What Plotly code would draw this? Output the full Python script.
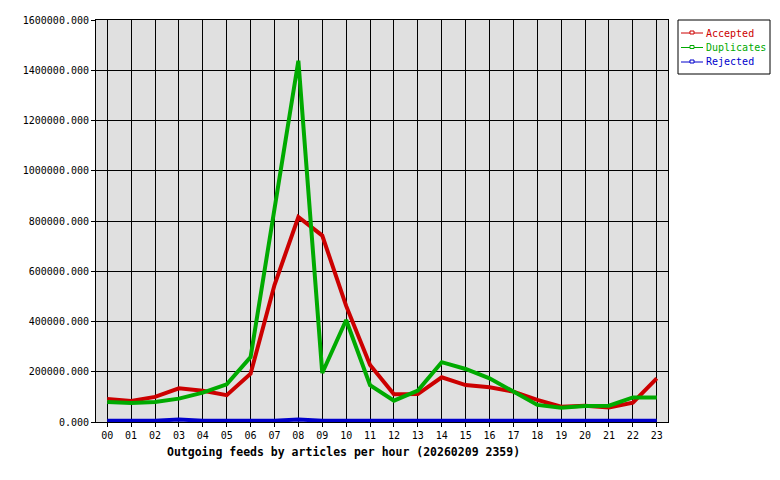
import plotly.graph_objects as go

hours = [f"{h:02d}" for h in range(24)]
accepted = [92000, 84000, 100000, 134000, 124000, 107000, 192000, 545000, 816000, 742000, 462000, 227000,
            110000, 111000, 178000, 147000, 138000, 121000, 88000, 61000, 65000, 58000, 77000, 174000]
duplicates = [80000, 76000, 80000, 93000, 117000, 150000, 258000, 860000, 1438000, 195000, 406000, 147000,
              85000, 125000, 238000, 211000, 174000, 121000, 68000, 57000, 64000, 65000, 98000, 98000]
rejected = [5000, 5000, 5000, 10000, 5000, 5000, 5000, 5000, 10000, 5000, 5000, 5000,
            5000, 5000, 5000, 5000, 5000, 5000, 5000, 5000, 5000, 5000, 5000, 5000]

series = [("Accepted", accepted, "#cc0000"),
          ("Duplicates", duplicates, "#00aa00"),
          ("Rejected", rejected, "#0000cc")]

MONO = "DejaVu Sans Mono, Liberation Mono, monospace"
W, H = 780, 480
L, R, T, B = 96, 112, 20, 58
PW, PH = W - L - R, H - T - B


def px(x):
    return (x - L) / PW


def py(y):
    return (H - B - y) / PH


fig = go.Figure()
for name, vals, col in series:
    fig.add_trace(go.Scatter(x=hours, y=vals, mode="lines", line=dict(color=col, width=4),
                             name=name, showlegend=False, hoverinfo="skip"))

shapes = [dict(type="rect", xref="paper", yref="paper", x0=px(678), x1=px(770), y0=py(20), y1=py(74),
               line=dict(color="black", width=1), fillcolor="white", layer="above")]
annotations = [dict(text="<b>Outgoing feeds by articles per hour (20260209 2359)</b>",
                    xref="paper", yref="paper", x=px(343), y=py(452),
                    xanchor="center", yanchor="middle", showarrow=False,
                    font=dict(family=MONO, size=11.5, color="black"))]
for i, (name, vals, col) in enumerate(series):
    yy = 33 + i * 14.5
    shapes.append(dict(type="line", xref="paper", yref="paper", x0=px(681), x1=px(703), y0=py(yy), y1=py(yy),
                       line=dict(color=col, width=1)))
    shapes.append(dict(type="rect", xref="paper", yref="paper", x0=px(690), x1=px(694), y0=py(yy - 2),
                       y1=py(yy + 1), line=dict(color=col, width=1), fillcolor="white"))
    annotations.append(dict(text=name, xref="paper", yref="paper", x=px(704), y=py(yy),
                            xanchor="left", yanchor="middle", showarrow=False,
                            font=dict(family=MONO, size=10, color=col)))

fig.update_layout(
    width=W, height=H,
    margin=dict(l=L, r=R, t=T, b=B, autoexpand=False),
    paper_bgcolor="white", plot_bgcolor="#e0e0e0",
    font=dict(family=MONO, size=10, color="black"),
    showlegend=False,
    shapes=shapes,
    annotations=annotations,
)
fig.update_xaxes(type="category", range=[-0.47, 23.47], showgrid=True, gridcolor="black", gridwidth=1,
                 showline=True, linecolor="black", linewidth=1, mirror=True,
                 ticks="outside", ticklen=4, tickcolor="black", tickfont=dict(family=MONO, size=10))
fig.update_yaxes(range=[0, 1600000], dtick=200000, tickformat=".3f", showgrid=True, gridcolor="black",
                 gridwidth=1, showline=True, linecolor="black", linewidth=1, mirror=True,
                 ticks="outside", ticklen=4, tickcolor="black", zeroline=False,
                 tickfont=dict(family=MONO, size=10))

fig.write_html("out.html")
